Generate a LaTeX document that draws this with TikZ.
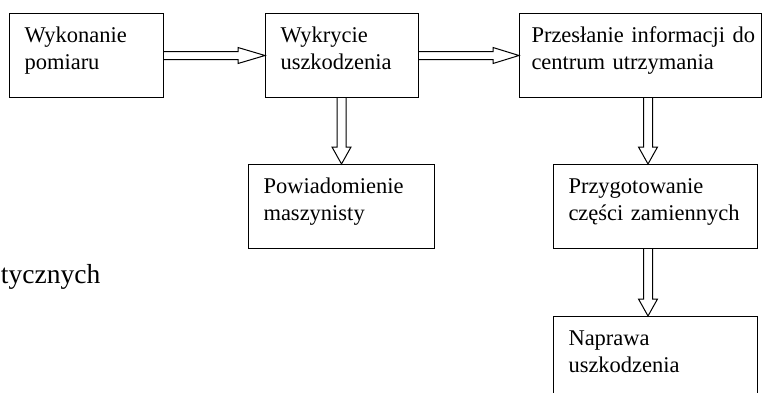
\documentclass[tikz,border=0pt]{standalone}
\usepackage{fontspec}
\setmainfont{Liberation Serif}
\usetikzlibrary{calc}

\begin{document}
\begin{tikzpicture}[x=1pt, y=-1pt, line width=1pt,
    box/.style={draw, anchor=north west, inner xsep=15pt, inner ysep=0pt,
      align=left, text height=29pt, text depth=55pt,
      font=\fontsize{22.5}{26.7}\selectfont},
    arr/.style={draw, fill=white, line join=miter}]
  \useasboundingbox (0,0) rectangle (763,392);

  % Draw the boxes
  \node[box, text width=124pt] (pomiar) at (9,13) {Wykonanie\\pomiaru};
  \node[box, text width=123pt] (wykrycie) at (265,13) {Wykrycie\\uszkodzenia};
  \node[box, inner xsep=12pt, text width=218pt] (przeslanie) at (519,13)
    {\mbox{Przesłanie informacji do}\\centrum utrzymania};
  \node[box, text width=156pt] (powiad) at (248,164) {Powiadomienie\\maszynisty};
  \node[box, text width=174pt] (przyg) at (553,164) {Przygotowanie\\części zamiennych};
  \node[box, text width=174pt] (naprawa) at (553,316) {Naprawa\\uszkodzenia};

  % Text at the left edge
  \node[anchor=base west, inner sep=0pt, font=\fontsize{27.5}{33}\selectfont]
    (reszta) at (0.5,283) {tycznych};

  % Horizontal arrows
  \draw[arr] ($(pomiar.east)+(0,-4)$) -- ($(wykrycie.west)+(-27,-4)$) -- ++(0,-4)
    -- (wykrycie.west) -- ++(-27,8) -- ++(0,-4) -- ($(pomiar.east)+(0,4)$);
  \draw[arr] ($(wykrycie.east)+(0,-4)$) -- ($(przeslanie.west)+(-26,-4)$) -- ++(0,-4)
    -- (przeslanie.west) -- ++(-26,8) -- ++(0,-4) -- ($(wykrycie.east)+(0,4)$);

  % Vertical arrows
  \coordinate (p4) at ($(przyg.north)+(-7.5,0)$);
  \coordinate (p5) at ($(naprawa.north)+(-7.5,0)$);
  \draw[arr] ($(wykrycie.south -| powiad.north)+(-4.5,0)$) -- ($(powiad.north)+(-4.5,-17)$)
    -- ++(-5,0) -- (powiad.north) -- ++(9.5,-17) -- ++(-5,0)
    -- ($(wykrycie.south -| powiad.north)+(4.5,0)$);
  \draw[arr] ($(przeslanie.south -| p4)+(-4.5,0)$) -- ($(p4)+(-4.5,-17)$)
    -- ++(-5,0) -- (p4) -- ++(9.5,-17) -- ++(-5,0)
    -- ($(przeslanie.south -| p4)+(4.5,0)$);
  \draw[arr] ($(przyg.south -| p5)+(-4.5,0)$) -- ($(p5)+(-4.5,-17)$)
    -- ++(-5,0) -- (p5) -- ++(9.5,-17) -- ++(-5,0)
    -- ($(przyg.south -| p5)+(4.5,0)$);
\end{tikzpicture}
\end{document}
